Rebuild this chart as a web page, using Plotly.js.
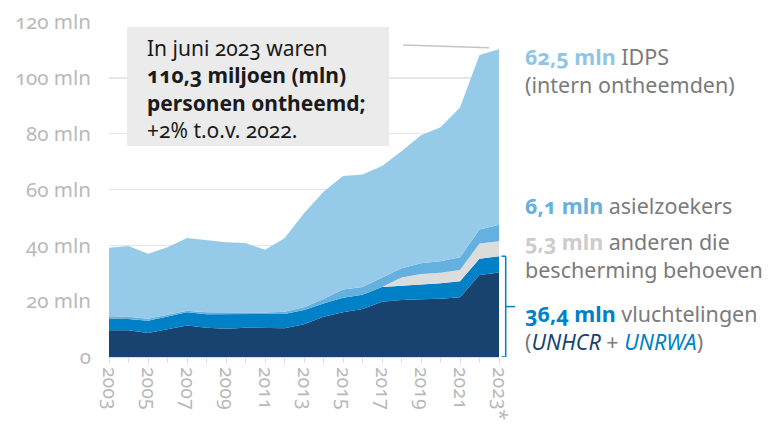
<!DOCTYPE html>
<html><head><meta charset="utf-8">
<script src="https://cdn.plot.ly/plotly-3.0.1.min.js"></script>
<style>
html,body{margin:0;padding:0;background:#fff;}
#chart{width:771px;height:427px;}
svg text{font-feature-settings:"onum" 1;}
</style></head><body><div id="chart"></div>
<script>
const years = [2003,2004,2005,2006,2007,2008,2009,2010,2011,2012,2013,2014,2015,2016,2017,2018,2019,2020,2021,2022,2023];
const tickVals = [2003,2005,2007,2009,2011,2013,2015,2017,2019,2021,2023];
const tickText = ['2003','2005','2007','2009','2011','2013','2015','2017','2019','2021','2023*'];
const yTickVals = [0,20,40,60,80,100,120];
const yTickText = ['0','20 mln','40 mln','60 mln','80 mln','100 mln','120 mln'];
// miljoenen
const unhcr  = [9.6,9.6,8.6,9.9,11.3,10.5,10.1,10.5,10.3,10.3,11.7,14.4,16.0,17.2,19.8,20.4,20.7,20.9,21.4,29.4,30.3];
const unrwa  = [4.1,4.0,4.4,4.5,4.7,4.8,5.2,4.8,5.0,5.1,5.1,4.8,5.2,5.1,5.3,5.1,5.3,5.5,5.7,5.8,5.8];
const others = [0,0,0,0,0,0,0,0,0,0,0,0,0,0,0,3.0,3.7,3.8,4.1,5.5,5.4];
const asylum = [0.9,0.8,0.7,0.8,0.6,0.7,0.7,0.6,0.6,0.8,1.0,1.6,3.0,2.8,3.4,3.3,3.9,4.1,4.5,5.0,5.9];
const idps   = [24.5,25.4,23.3,24.1,26.0,25.9,25.1,24.9,22.5,26.3,33.7,38.4,40.6,40.3,39.9,41.9,45.8,48.0,53.7,62.5,62.8];

const FONT = 'Noto Sans, Lato, sans-serif';
const C_NAVY = '#18436f', C_BLUE = '#0080c6', C_GRAY = '#dcdcdc', C_ASYL = '#64b0de', C_IDP = '#95cbe8';
const TXT = '#7b7b7b';

function area(y, color, name){
  return {x: years, y: y, name: name, type: 'scatter', mode: 'lines', stackgroup: 'one',
          line: {width: 0, color: color}, fillcolor: color, hoverinfo: 'skip'};
}
const data = [
  area(unhcr, C_NAVY, 'UNHCR'),
  area(unrwa, C_BLUE, 'UNRWA'),
  area(others, C_GRAY, 'anderen'),
  area(asylum, C_ASYL, 'asielzoekers'),
  area(idps, C_IDP, 'IDPS')
];

const W = 771, H = 427, L = 109, R = 272, T = 22, B = 70;
const pw = W - L - R, ph = H - T - B;
const px = v => (v - L) / pw;      // pixel x -> paper
const py = v => (H - B - v) / ph;  // pixel y -> paper

const last = years.length - 1;
const refTop = unhcr[last] + unrwa[last];

const layout = {
  width: W, height: H,
  margin: {l: L, r: R, t: T, b: B, pad: 0},
  paper_bgcolor: '#fff', plot_bgcolor: '#fff',
  showlegend: false,
  font: {family: FONT, color: TXT},
  xaxis: {
    range: [2003, 2023], tickmode: 'array', tickvals: tickVals, ticktext: tickText,
    tickangle: 90, ticks: 'outside', ticklen: 5, tickcolor: '#dddddd', tickwidth: 1,
    minor: {tickmode: 'linear', tick0: 2003, dtick: 1, ticks: 'outside', ticklen: 5, tickcolor: '#dddddd', showgrid: false},
    showgrid: false, zeroline: false, showline: true, linecolor: '#dddddd', linewidth: 1,
    tickfont: {family: FONT, size: 19.5, color: '#b9b9b9'}, fixedrange: true
  },
  yaxis: {
    range: [0, 120], tickmode: 'array', tickvals: yTickVals, ticktext: yTickText,
    showgrid: true, gridcolor: '#e6e6e6', gridwidth: 1.5, zeroline: false, showline: false,
    ticks: '', ticklabelstandoff: 17,
    tickfont: {family: FONT, size: 20.5, color: '#b9b9b9'}, fixedrange: true
  },
  shapes: [
    {type: 'rect', xref: 'paper', yref: 'paper', x0: px(127), x1: px(389), y0: py(146), y1: py(27),
     fillcolor: '#ebebeb', line: {width: 0}, layer: 'above'},
    {type: 'line', xref: 'paper', yref: 'paper', x0: px(403), x1: px(489), y0: py(45), y1: py(47.7),
     line: {color: '#c4c4c4', width: 1.5}},
    // bracket for vluchtelingen
    {type: 'line', xref: 'paper', yref: 'y', x0: px(505.7), x1: px(505.7), y0: 0, y1: refTop,
     line: {color: C_BLUE, width: 1.5}},
    {type: 'line', xref: 'paper', yref: 'y', x0: px(501.5), x1: px(505.7), y0: refTop, y1: refTop,
     line: {color: C_BLUE, width: 1.5}},
    {type: 'line', xref: 'paper', yref: 'y', x0: px(501.5), x1: px(505.7), y0: 0, y1: 0,
     line: {color: C_BLUE, width: 1.5}},
    {type: 'line', xref: 'paper', yref: 'y', x0: px(505.7), x1: px(515), y0: refTop / 2, y1: refTop / 2,
     line: {color: C_BLUE, width: 1.5}}
  ],
  annotations: [
    {xref: 'paper', yref: 'paper', x: px(145), y: py(88.5), xanchor: 'left', yanchor: 'middle', align: 'left',
     showarrow: false, font: {family: FONT, size: 21, color: '#1a1a1a'},
     text: 'In juni 2023 waren<br><b>110,3 miljoen (mln)</b><br><b>personen ontheemd;</b><br>+2% t.o.v. 2022.'},
    {xref: 'paper', yref: 'paper', x: px(523), y: py(70.5), xanchor: 'left', yanchor: 'middle', align: 'left',
     showarrow: false, font: {family: FONT, size: 21.5, color: TXT},
     text: '<b><span style="color:#8fc6e7">62,5 mln</span></b> IDPS<br>(intern ontheemden)'},
    {xref: 'paper', yref: 'paper', x: px(523), y: py(205), xanchor: 'left', yanchor: 'middle', align: 'left',
     showarrow: false, font: {family: FONT, size: 21.5, color: TXT},
     text: '<b><span style="color:#64b0de">6,1 mln</span></b> asielzoekers'},
    {xref: 'paper', yref: 'paper', x: px(523), y: py(255), xanchor: 'left', yanchor: 'middle', align: 'left',
     showarrow: false, font: {family: FONT, size: 21.5, color: TXT},
     text: '<b><span style="color:#cccccc">5,3 mln</span></b> anderen die<br>bescherming behoeven'},
    {xref: 'paper', yref: 'paper', x: px(523), y: py(327.5), xanchor: 'left', yanchor: 'middle', align: 'left',
     showarrow: false, font: {family: FONT, size: 21.5, color: TXT},
     text: '<b><span style="color:#0080c6">36,4 mln</span></b> vluchtelingen<br>(<i><span style="color:#18436f">UNHCR</span></i> + <i><span style="color:#0080c6">UNRWA</span></i>)'}
  ]
};

Plotly.newPlot('chart', data, layout, {displayModeBar: false, staticPlot: true});
</script></body></html>
